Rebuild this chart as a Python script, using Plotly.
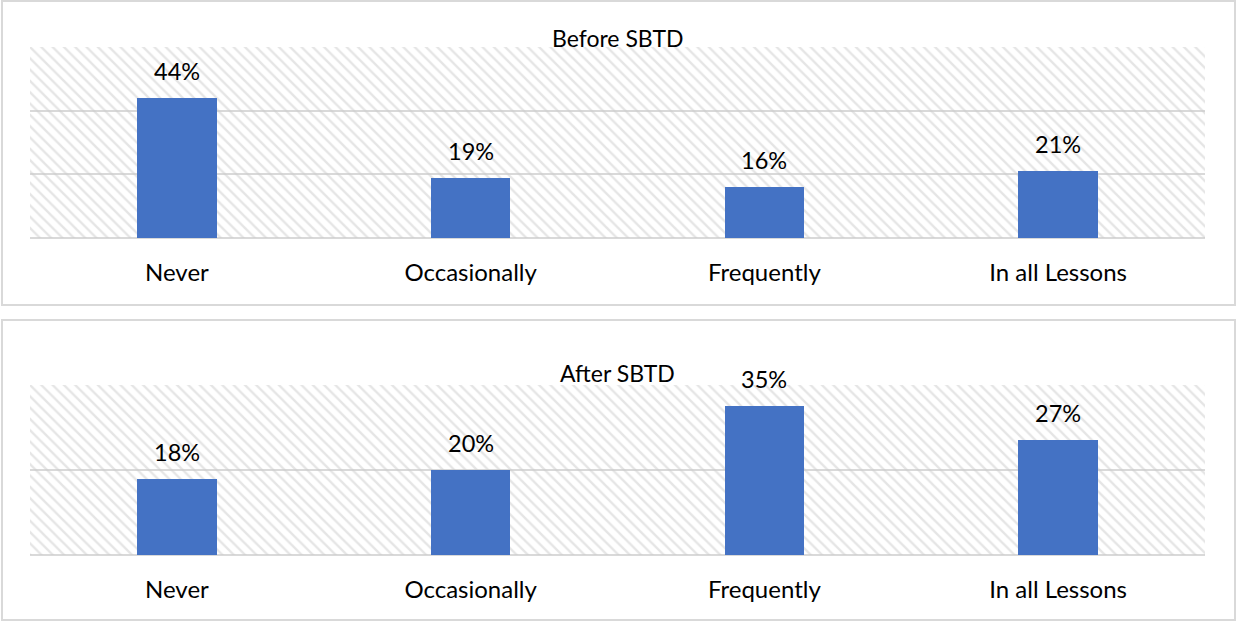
import plotly.graph_objects as go

# Survey responses: how often the practice was used, before and after SBTD
categories = ["Never", "Occasionally", "Frequently", "In all Lessons"]
before_pct = [44, 19, 16, 21]
after_pct = [18, 20, 35, 27]
panel_titles = ["Before SBTD", "After SBTD"]
axis_max = [60, 40]

W, H = 1238, 622
BAR_COLOR = "#4472C4"
GRID = "#D9D9D9"
FONT = "Lato"


def py(px):
    """Convert a pixel row (from the top) to paper y."""
    return 1 - px / H


x_domain = [30 / W, 1205 / W]
y_domains = [[py(238), py(47)], [py(555), py(385)]]
frames = [(2, 1, 1235, 305), (2, 320, 1235, 620)]
title_shift = [-7, -4]

fig = go.Figure()
positions = list(range(len(categories)))
annotations = []
shapes = []

for k, (values, title) in enumerate(zip([before_pct, after_pct], panel_titles)):
    xa = "x" if k == 0 else "x2"
    ya = "y" if k == 0 else "y2"
    # hatched plot-area background
    fig.add_trace(go.Bar(
        x=[(len(categories) - 1) / 2], y=[axis_max[k]], width=[len(categories)],
        xaxis=xa, yaxis=ya,
        marker=dict(color="rgba(0,0,0,0)", line=dict(width=0),
                    pattern=dict(shape="\\", fgcolor="#CCCCCC",
                                 bgcolor="rgba(0,0,0,0)", size=8, solidity=0.3)),
        hoverinfo="skip", showlegend=False,
    ))
    fig.add_trace(go.Bar(
        x=positions, y=values, width=0.27, xaxis=xa, yaxis=ya,
        marker=dict(color=BAR_COLOR, line=dict(width=0)),
        showlegend=False,
    ))
    for i, v in zip(positions, values):
        annotations.append(dict(
            x=i, y=v, xref=xa, yref=ya, text=f"{v}%", showarrow=False,
            yanchor="bottom", yshift=11, font=dict(family=FONT, size=23.5, color="#000"),
        ))
    annotations.append(dict(
        x=(x_domain[0] + x_domain[1]) / 2, y=y_domains[k][1], xref="paper", yref="paper",
        text=title, showarrow=False, yanchor="bottom", yshift=title_shift[k],
        font=dict(family=FONT, size=23, color="#000"),
    ))
    x0, y0, x1, y1 = frames[k]
    shapes.append(dict(type="rect", xref="paper", yref="paper",
                       x0=x0 / W, x1=x1 / W, y0=py(y1), y1=py(y0),
                       line=dict(color=GRID, width=2), fillcolor="rgba(0,0,0,0)",
                       layer="below"))

axis_x = dict(domain=x_domain, range=[-0.5, len(categories) - 0.5],
              tickmode="array", tickvals=positions, ticktext=categories,
              ticks="outside", ticklen=13, tickcolor="rgba(0,0,0,0)",
              showgrid=False, zeroline=False, showline=False,
              tickfont=dict(family=FONT, size=24, color="#000"), fixedrange=True)

fig.update_layout(
    width=W, height=H, margin=dict(l=0, r=0, t=0, b=0),
    paper_bgcolor="white", plot_bgcolor="rgba(0,0,0,0)",
    barmode="overlay", bargap=0,
    xaxis=dict(axis_x, anchor="y"),
    xaxis2=dict(axis_x, anchor="y2"),
    yaxis=dict(domain=y_domains[0], range=[0, axis_max[0]], dtick=20,
               showgrid=True, gridcolor=GRID, gridwidth=2,
               zeroline=True, zerolinecolor=GRID, zerolinewidth=2,
               showticklabels=False, anchor="x"),
    yaxis2=dict(domain=y_domains[1], range=[0, axis_max[1]], dtick=20,
                showgrid=True, gridcolor=GRID, gridwidth=2,
                zeroline=True, zerolinecolor=GRID, zerolinewidth=2,
                showticklabels=False, anchor="x2"),
    annotations=annotations, shapes=shapes,
    font=dict(family=FONT, color="#000"),
)

fig.write_html("out.html")
